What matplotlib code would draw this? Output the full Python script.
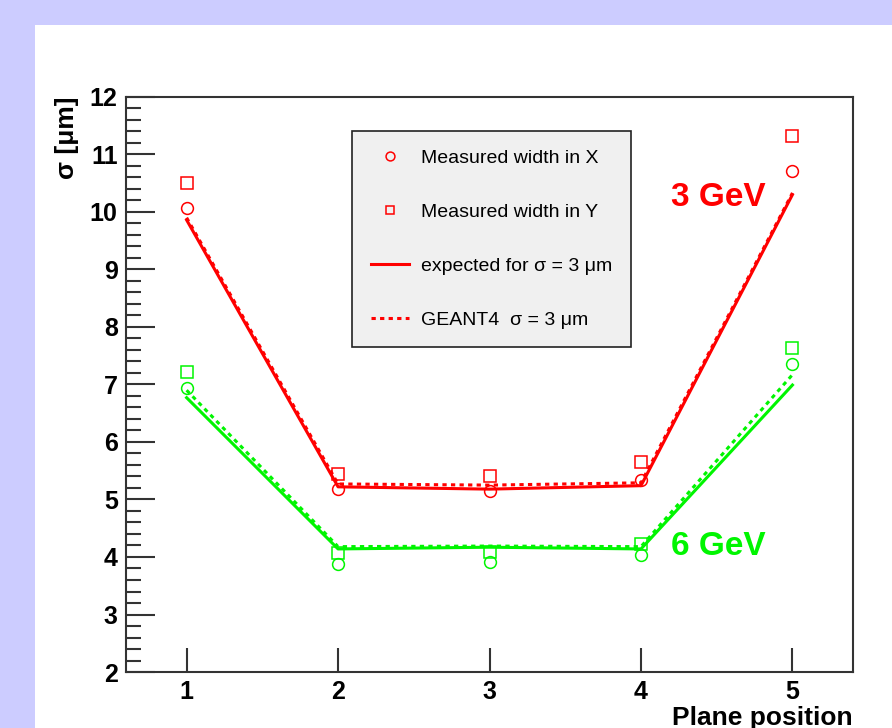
import matplotlib.pyplot as plt
from matplotlib.patches import Rectangle
from matplotlib.ticker import MultipleLocator

plt.rcParams['font.family'] = ['Liberation Sans', 'DejaVu Sans']

# data
planes = [1, 2, 3, 4, 5]

x3_meas = [10.07, 5.18, 5.15, 5.34, 10.71]
y3_meas = [10.50, 5.44, 5.41, 5.65, 11.32]
exp3 = [9.86, 5.22, 5.18, 5.24, 10.30]
g4_3 = [9.90, 5.27, 5.25, 5.29, 10.33]

x6_meas = [6.94, 3.88, 3.92, 4.03, 7.36]
y6_meas = [7.22, 4.07, 4.09, 4.23, 7.63]
exp6 = [6.77, 4.14, 4.17, 4.14, 6.99]
g4_6 = [6.90, 4.18, 4.19, 4.18, 7.17]

red = '#ff0000'
green = '#00f500'

fig = plt.figure(figsize=(8.92, 7.28), dpi=100)
fig.patch.set_facecolor('#ccccff')
panel = Rectangle((35 / 892, 0), 1, 1 - 25 / 728, transform=fig.transFigure,
                  facecolor='white', edgecolor='none', zorder=-10)
fig.add_artist(panel)

ax = fig.add_axes([0.1413, 0.0769, 0.815, 0.79])
ax.set_zorder(5)
ax.set_facecolor('white')

# lines
ax.plot(planes, exp3, color=red, lw=2.2, label='expected for σ = 3 μm')
ax.plot(planes, g4_3, color=red, lw=2.2, ls=(0, (1.4, 1.4)), label='GEANT4  σ = 3 μm')
ax.plot(planes, exp6, color=green, lw=2.2)
ax.plot(planes, g4_6, color=green, lw=2.2, ls=(0, (1.4, 1.4)))

# markers
ax.plot(planes, x3_meas, 'o', ms=8.5, mfc='none', mec=red, mew=1.1, label='Measured width in X')
ax.plot(planes, y3_meas, 's', ms=8.5, mfc='none', mec=red, mew=1.1, label='Measured width in Y')
ax.plot(planes, x6_meas, 'o', ms=8.5, mfc='none', mec=green, mew=1.1)
ax.plot(planes, y6_meas, 's', ms=8.5, mfc='none', mec=green, mew=1.1)

ax.set_xlim(0.6, 5.4)
ax.set_ylim(2, 12)
ax.set_xticks(planes)
ax.yaxis.set_major_locator(MultipleLocator(1))
ax.yaxis.set_minor_locator(MultipleLocator(0.2))
ax.tick_params(axis='both', which='both', direction='in', color='#333333', width=1.5,
               labelsize=18, pad=6)
ax.tick_params(axis='y', which='major', length=21)
ax.tick_params(axis='y', which='minor', length=11)
ax.tick_params(axis='x', which='major', length=17)
for lab in ax.get_xticklabels() + ax.get_yticklabels():
    lab.set_fontweight('bold')
for s in ax.spines.values():
    s.set_color('#333333')
    s.set_linewidth(1.5)

ax.set_xlabel('Plane position', fontsize=19, fontweight='bold', loc='right', labelpad=1)
ax.set_ylabel('σ [μm]', fontsize=19, fontweight='bold', loc='top', labelpad=8)

ax.text(0.815, 0.825, '3 GeV', transform=ax.transAxes, color=red, fontsize=24,
        fontweight='bold', ha='center', va='center')
ax.text(0.815, 0.218, '6 GeV', transform=ax.transAxes, color=green, fontsize=24,
        fontweight='bold', ha='center', va='center')

h, l = ax.get_legend_handles_labels()
order = [2, 3, 0, 1]
leg = ax.legend([h[i] for i in order], [l[i] for i in order], loc='upper left',
                bbox_to_anchor=(0.311, 0.941), borderaxespad=0, fontsize=14,
                frameon=True, fancybox=False, edgecolor='#222222', facecolor='#f0f0f0',
                framealpha=1, labelspacing=1.87, handlelength=2.0, handletextpad=0.6,
                borderpad=0.95, markerscale=0.75)
leg.get_frame().set_linewidth(1.2)

fig.savefig('out.png', dpi=100, facecolor=fig.get_facecolor())
